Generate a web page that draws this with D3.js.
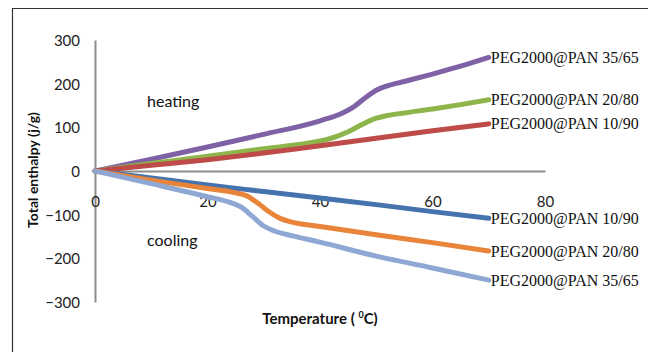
<!DOCTYPE html>
<html>
<head>
<meta charset="utf-8">
<script src="https://cdn.jsdelivr.net/npm/d3@7"></script>
<style>
  body { margin: 0; background: #fff; }
  svg { display: block; }
  .axis text { font-family: Lato, "Open Sans", sans-serif; font-size: 15px; fill: #222; }
  .axis path { stroke: #8c8c8c; stroke-width: 2; }
  .series-label { font-family: "Liberation Serif", "DejaVu Serif", serif; font-size: 16px; fill: #111; }
  .note { font-family: Lato, "Open Sans", sans-serif; font-size: 16px; fill: #111; }
  .title { font-family: Lato, "Open Sans", sans-serif; font-weight: bold; fill: #111; }
</style>
</head>
<body>
<svg width="648" height="352"></svg>
<script>
// Values (temperature in deg C, enthalpy in J/g).
const xTicks = [0, 20, 40, 60, 80];
const yTicks = [-300, -200, -100, 0, 100, 200, 300];

const heat3565 = [[0, 0], [10, 27], [20, 55], [30, 84], [40, 115], [44, 133], [46, 147],
  [48, 167], [50, 185], [52, 195], [55, 205], [60, 222], [65, 240], [70, 260]];
const heat2080 = [[0, 0], [10, 17], [20, 34], [30, 51], [38, 64], [42, 75], [45, 90],
  [48, 110], [50, 121], [52, 127], [55, 133], [60, 142], [65, 152], [70, 163]];
const heat1090 = [[0, 0], [10, 13], [20, 26], [30, 41], [40, 58], [50, 75], [60, 92], [70, 108]];

const cool1090 = [[0, 0], [10, -16], [20, -32], [30, -47], [40, -62], [50, -77], [60, -93], [70, -108]];
const cool2080 = [[0, 0], [10, -21], [20, -40], [25, -50], [27, -57], [29, -74], [31, -94],
  [33, -109], [35, -117], [40, -127], [50, -146], [60, -164], [70, -183]];
const cool3565 = [[0, 0], [10, -29], [20, -59], [24, -72], [26, -83], [28, -104], [30, -126],
  [32, -138], [35, -148], [40, -163], [50, -195], [60, -222], [70, -250]];

const seriesNames = ['PEG2000@PAN 35/65', 'PEG2000@PAN 20/80', 'PEG2000@PAN 10/90',
  'PEG2000@PAN 10/90', 'PEG2000@PAN 20/80', 'PEG2000@PAN 35/65'];
const seriesColors = ['#7f62a5', '#8db54c', '#be4b48', '#4573ad', '#e8853a', '#8ea8d3'];
const seriesData = [heat3565, heat2080, heat1090, cool1090, cool2080, cool3565];

const svg = d3.select('svg');

// Outer frame (only top and left edges fall inside the picture).
svg.append('path')
    .attr('d', 'M12.5,352 V8.5 H648')
    .attr('fill', 'none')
    .attr('stroke', '#333')
    .attr('stroke-width', 1.2);

const x = d3.scaleLinear().domain([0, 80]).range([95, 545]);
const y = d3.scaleLinear().domain([-300, 300]).range([302, 40]);

svg.append('g')
    .attr('class', 'axis')
    .attr('transform', `translate(${x(0)},0)`)
    .call(d3.axisLeft(y).tickValues(yTicks).tickSize(0).tickPadding(15))
    .call(g => g.selectAll('text').attr('dy', '0.36em'));

svg.append('g')
    .attr('class', 'axis')
    .attr('transform', `translate(0,${y(0)})`)
    .call(d3.axisBottom(x).tickValues(xTicks).tickSize(0).tickPadding(25));

const line = d3.line()
    .x(d => x(d[0]))
    .y(d => y(d[1]))
    .curve(d3.curveMonotoneX);

svg.append('g')
    .selectAll('path')
    .data(seriesData)
    .join('path')
    .attr('d', line)
    .attr('fill', 'none')
    .attr('stroke', (d, i) => seriesColors[i])
    .attr('stroke-width', 5)
    .attr('stroke-linecap', 'round')
    .attr('stroke-linejoin', 'round');

// Labels sit just right of each line's last point.
svg.append('g')
    .selectAll('text')
    .data(seriesData)
    .join('text')
    .attr('class', 'series-label')
    .attr('x', d => x(d[d.length - 1][0]) + 2)
    .attr('y', d => y(d[d.length - 1][1]))
    .attr('dy', '0.35em')
    .text((d, i) => seriesNames[i]);

svg.append('text').attr('class', 'note')
    .attr('x', 147).attr('y', 107).text('heating');
svg.append('text').attr('class', 'note')
    .attr('x', 147).attr('y', 246).text('cooling');

svg.append('text')
    .attr('class', 'title')
    .attr('font-size', 14)
    .attr('text-anchor', 'middle')
    .attr('transform', 'translate(38,170) rotate(-90)')
    .text('Total enthalpy (j/g)');

const xTitle = svg.append('text')
    .attr('class', 'title')
    .attr('font-size', 15)
    .attr('text-anchor', 'middle')
    .attr('x', 320)
    .attr('y', 324);
xTitle.append('tspan').text('Temperature ( ');
xTitle.append('tspan').attr('font-size', 9).attr('dy', -6).text('0');
xTitle.append('tspan').attr('dy', 6).text('C)');
</script>
</body>
</html>
